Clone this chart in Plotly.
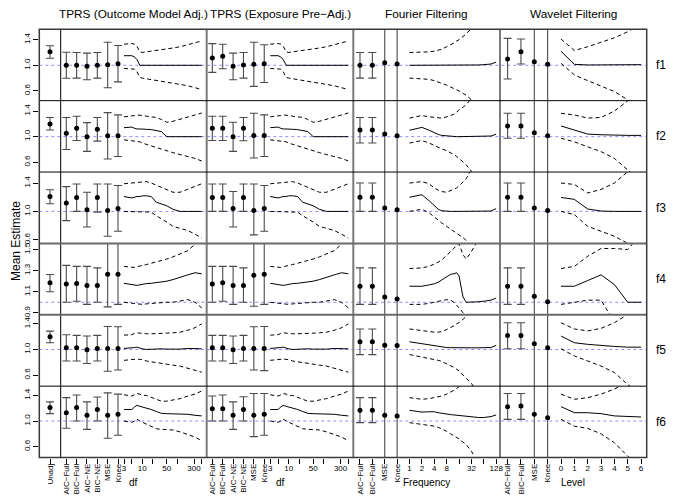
import numpy as np
import plotly.graph_objects as go

# ---- labels ----
row_labels = ["f1", "f2", "f3", "f4", "f5", "f6"]
col_titles = ["TPRS (Outcome Model Adj.)", "TPRS (Exposure Pre\u2212Adj.)",
              "Fourier Filtering", "Wavelet Filtering"]
tprs_methods = ["AIC\u2212Full", "BIC\u2212Full", "AIC\u2212NE", "BIC\u2212NE", "MSE", "Knee"]
filt_methods = ["AIC\u2212Full", "BIC\u2212Full", "MSE", "Knee"]

# ---- unadjusted ----
unadj_est = [1.21, 1.198, 1.21, 1.185, 1.20, 1.21]
unadj_lo = [1.11, 1.105, 1.108, 1.10, 1.105, 1.115]
unadj_hi = [1.305, 1.30, 1.305, 1.263, 1.286, 1.30]

# ---- TPRS (outcome model adj.) selected-df estimates ----
tprs_out_est = [[1.00, 1.00, 0.984, 1.00, 1.01, 1.025],
                [1.053, 1.13, 1.00, 1.115, 1.016, 1.016],
                [1.118, 1.197, 1.024, 1.197, 1.014, 1.04],
                [1.174, 1.177, 1.158, 1.16, 1.265, 1.265],
                [1.026, 1.026, 0.995, 1.016, 1.016, 1.016],
                [1.13, 1.21, 1.09, 1.18, 1.09, 1.105]]
tprs_out_lo = [[0.797, 0.80, 0.775, 0.80, 0.65, 0.74],
               [0.80, 0.94, 0.77, 0.93, 0.65, 0.69],
               [0.87, 1.00, 0.78, 0.99, 0.65, 0.72],
               [1.00, 1.01, 0.98, 1.00, 0.956, 0.98],
               [0.82, 0.82, 0.78, 0.82, 0.66, 0.68],
               [0.886, 1.00, 0.87, 1.00, 0.73, 0.777]]
tprs_out_hi = [[1.203, 1.20, 1.19, 1.20, 1.36, 1.31],
               [1.30, 1.32, 1.22, 1.30, 1.375, 1.34],
               [1.35, 1.386, 1.27, 1.386, 1.386, 1.366],
               [1.35, 1.34, 1.34, 1.326, 1.60, 1.57],
               [1.23, 1.22, 1.21, 1.22, 1.36, 1.355],
               [1.365, 1.406, 1.30, 1.375, 1.44, 1.42]]

# ---- TPRS (exposure pre-adj.) selected-df estimates ----
tprs_exp_est = [[1.114, 1.14, 0.984, 1.005, 1.016, 1.025],
                [1.13, 1.13, 1.00, 1.13, 1.02, 1.02],
                [1.197, 1.197, 1.04, 1.197, 1.014, 1.04],
                [1.174, 1.184, 1.16, 1.16, 1.256, 1.265],
                [1.026, 1.026, 0.995, 1.016, 1.016, 1.016],
                [1.19, 1.19, 1.09, 1.18, 1.09, 1.105]]
tprs_exp_lo = [[0.89, 0.947, 0.775, 0.80, 0.67, 0.73],
               [0.94, 0.94, 0.77, 0.935, 0.667, 0.69],
               [1.00, 1.00, 0.78, 1.00, 0.67, 0.72],
               [1.00, 1.01, 0.98, 1.00, 0.963, 0.98],
               [0.82, 0.82, 0.78, 0.82, 0.68, 0.67],
               [1.00, 1.00, 0.87, 1.00, 0.756, 0.777]]
tprs_exp_hi = [[1.338, 1.33, 1.19, 1.20, 1.36, 1.32],
               [1.32, 1.32, 1.225, 1.30, 1.365, 1.34],
               [1.386, 1.386, 1.28, 1.386, 1.386, 1.366],
               [1.34, 1.34, 1.34, 1.326, 1.60, 1.57],
               [1.22, 1.22, 1.21, 1.22, 1.355, 1.36],
               [1.39, 1.406, 1.30, 1.38, 1.43, 1.43]]

# ---- TPRS estimate by df (same curves in both TPRS panels) ----
df_grid = [3, 5, 6, 7, 8.5, 10, 13, 18, 25, 35, 50, 75, 120, 200, 320, 500]
tprs_curve_est = [[1.15, 1.15, 1.13, 1.09, 1.00, 1.00, 1.00, 1.00, 1.00, 1.00, 1.00, 1.00, 1.00, 1.00, 1.00, 1.00],
                  [1.14, 1.15, 1.13, 1.12, 1.12, 1.115, 1.115, 1.11, 1.09, 1.08, 1.00, 1.00, 1.00, 1.00, 1.00, 1.00],
                  [1.21, 1.19, 1.20, 1.21, 1.21, 1.22, 1.22, 1.21, 1.13, 1.11, 1.08, 1.03, 1.00, 1.00, 1.00, 1.00],
                  [1.18, 1.17, 1.16, 1.16, 1.165, 1.17, 1.177, 1.18, 1.185, 1.19, 1.20, 1.215, 1.24, 1.26, 1.28, 1.27],
                  [1.016, 1.02, 1.03, 1.036, 1.02, 1.01, 1.00, 1.005, 1.01, 1.01, 1.005, 1.00, 1.005, 1.016, 1.01, 1.01],
                  [1.18, 1.18, 1.22, 1.245, 1.23, 1.22, 1.20, 1.18, 1.15, 1.12, 1.115, 1.115, 1.11, 1.105, 1.09, 1.08]]
tprs_curve_hi = [[1.33, 1.34, 1.33, 1.30, 1.21, 1.20, 1.21, 1.22, 1.23, 1.24, 1.25, 1.27, 1.29, 1.32, 1.35, 1.38],
                 [1.31, 1.32, 1.33, 1.34, 1.34, 1.33, 1.32, 1.31, 1.30, 1.27, 1.225, 1.24, 1.27, 1.30, 1.33, 1.37],
                 [1.39, 1.40, 1.40, 1.41, 1.41, 1.42, 1.42, 1.40, 1.37, 1.34, 1.30, 1.27, 1.27, 1.31, 1.35, 1.39],
                 [1.34, 1.33, 1.33, 1.335, 1.345, 1.35, 1.357, 1.37, 1.38, 1.39, 1.41, 1.43, 1.46, 1.49, 1.55, 1.62],
                 [1.224, 1.23, 1.25, 1.26, 1.255, 1.25, 1.245, 1.245, 1.245, 1.25, 1.255, 1.26, 1.27, 1.30, 1.34, 1.40],
                 [1.41, 1.39, 1.41, 1.43, 1.42, 1.40, 1.40, 1.37, 1.34, 1.31, 1.31, 1.33, 1.35, 1.39, 1.42, 1.47]]
tprs_curve_lo = [[0.95, 0.95, 0.94, 0.90, 0.81, 0.80, 0.79, 0.78, 0.765, 0.75, 0.735, 0.72, 0.70, 0.68, 0.65, 0.62],
                 [0.95, 0.94, 0.93, 0.93, 0.92, 0.90, 0.88, 0.85, 0.83, 0.80, 0.77, 0.75, 0.72, 0.69, 0.66, 0.62],
                 [1.00, 1.00, 1.00, 1.00, 1.00, 1.00, 1.00, 0.99, 0.94, 0.90, 0.85, 0.79, 0.76, 0.73, 0.68, 0.625],
                 [1.00, 0.99, 0.985, 0.98, 0.98, 0.98, 0.985, 0.99, 0.99, 0.995, 1.00, 1.00, 1.01, 1.025, 1.00, 0.947],
                 [0.83, 0.84, 0.85, 0.85, 0.845, 0.84, 0.82, 0.81, 0.80, 0.79, 0.775, 0.755, 0.74, 0.71, 0.68, 0.645],
                 [1.00, 0.98, 1.00, 1.03, 1.00, 0.98, 0.96, 0.92, 0.88, 0.87, 0.86, 0.86, 0.83, 0.79, 0.75, 0.69]]

# ---- Fourier filtering ----
fourier_est = [[1.00, 1.00, 1.04, 1.02],
               [1.105, 1.105, 1.04, 1.016],
               [1.20, 1.20, 1.048, 1.024],
               [1.152, 1.152, 1.05, 1.03],
               [1.12, 1.12, 1.067, 1.06],
               [1.167, 1.167, 1.09, 1.08]]
fourier_lo = [[0.80, 0.80, -1.0, -1.0],
              [0.90, 0.90, -1.0, -1.0],
              [1.00, 1.00, -1.0, -1.0],
              [0.98, 0.98, -1.0, -1.0],
              [0.92, 0.92, -1.0, -1.0],
              [0.975, 0.975, -1.0, -1.0]]
fourier_hi = [[1.20, 1.20, 3.0, 3.0],
              [1.30, 1.30, 3.0, 3.0],
              [1.40, 1.40, 3.0, 3.0],
              [1.326, 1.326, 3.0, 3.0],
              [1.32, 1.32, 3.0, 3.0],
              [1.365, 1.365, 3.0, 3.0]]
freq_grid = [1, 2, 3, 4, 5, 6, 8, 10, 12, 14, 16, 20, 24, 32, 48, 64, 96, 128]
fourier_curve_est = [[1.00, 1.00, 1.00, 1.005, 1.00, 0.998, 1.00, 1.00, 1.002, 1.00, 1.00, 1.00, 1.00, 1.00, 1.005, 1.01, 1.02, 1.05],
                     [1.10, 1.145, 1.10, 1.06, 1.035, 1.02, 1.01, 1.00, 1.00, 1.00, 1.00, 1.00, 1.00, 1.00, 1.00, 1.005, 1.01, 1.04],
                     [1.20, 1.235, 1.15, 1.08, 1.03, 1.01, 1.00, 1.00, 1.00, 1.00, 1.00, 1.00, 1.00, 1.00, 1.00, 1.00, 1.005, 1.04],
                     [1.152, 1.152, 1.165, 1.175, 1.19, 1.21, 1.24, 1.265, 1.27, 1.28, 1.25, 1.05, 1.00, 1.00, 1.005, 1.01, 1.02, 1.04],
                     [1.12, 1.09, 1.065, 1.05, 1.04, 1.036, 1.03, 1.028, 1.026, 1.026, 1.026, 1.026, 1.026, 1.026, 1.026, 1.026, 1.03, 1.065],
                     [1.167, 1.14, 1.145, 1.145, 1.13, 1.12, 1.11, 1.10, 1.095, 1.09, 1.085, 1.08, 1.07, 1.06, 1.055, 1.055, 1.07, 1.095]]
fourier_curve_hi = [[1.20, 1.20, 1.21, 1.22, 1.235, 1.25, 1.29, 1.32, 1.35, 1.38, 1.40, 1.45, 1.49, 1.58, 1.75, 1.90, 2.10, 2.30],
                    [1.29, 1.33, 1.31, 1.30, 1.29, 1.29, 1.31, 1.33, 1.35, 1.38, 1.42, 1.46, 1.50, 1.60, 1.80, 1.95, 2.20, 2.40],
                    [1.40, 1.42, 1.39, 1.33, 1.30, 1.28, 1.27, 1.29, 1.31, 1.33, 1.36, 1.41, 1.46, 1.60, 1.80, 2.00, 2.20, 2.40],
                    [1.32, 1.326, 1.34, 1.36, 1.38, 1.40, 1.44, 1.48, 1.51, 1.54, 1.555, 1.45, 1.41, 1.48, 1.60, 1.90, 2.10, 2.30],
                    [1.32, 1.29, 1.275, 1.27, 1.27, 1.28, 1.31, 1.34, 1.37, 1.40, 1.42, 1.47, 1.52, 1.60, 1.80, 2.00, 2.20, 2.40],
                    [1.365, 1.34, 1.35, 1.365, 1.38, 1.39, 1.42, 1.45, 1.48, 1.51, 1.53, 1.58, 1.62, 1.70, 1.90, 2.00, 2.20, 2.40]]
fourier_curve_lo = [[0.80, 0.79, 0.78, 0.76, 0.74, 0.72, 0.69, 0.66, 0.64, 0.62, 0.60, 0.56, 0.53, 0.46, 0.30, 0.15, 0.00, -0.10],
                    [0.90, 0.94, 0.90, 0.86, 0.83, 0.81, 0.78, 0.75, 0.72, 0.69, 0.66, 0.61, 0.56, 0.46, 0.30, 0.15, 0.00, -0.10],
                    [1.00, 1.03, 0.98, 0.92, 0.87, 0.84, 0.79, 0.75, 0.72, 0.70, 0.67, 0.63, 0.59, 0.50, 0.35, 0.20, 0.00, -0.20],
                    [0.98, 0.98, 0.99, 1.00, 1.005, 1.015, 1.025, 1.02, 1.00, 0.97, 0.95, 0.90, 0.85, 0.75, 0.60, 0.50, 0.30, 0.10],
                    [0.92, 0.886, 0.86, 0.845, 0.83, 0.815, 0.78, 0.75, 0.72, 0.69, 0.665, 0.60, 0.555, 0.47, 0.30, 0.15, 0.00, -0.20],
                    [0.975, 0.95, 0.935, 0.92, 0.90, 0.88, 0.84, 0.80, 0.77, 0.745, 0.72, 0.67, 0.63, 0.53, 0.35, 0.20, 0.00, -0.20]]

# ---- Wavelet filtering ----
wavelet_est = [[1.10, 1.21, 1.056, 1.016],
               [1.167, 1.167, 1.06, 1.016],
               [1.20, 1.20, 1.048, 1.014],
               [1.152, 1.152, 1.057, 1.004],
               [1.22, 1.22, 1.09, 1.026],
               [1.225, 1.235, 1.105, 1.053]]
wavelet_lo = [[0.786, 1.02, -1.0, -1.0],
              [0.975, 0.975, -1.0, -1.0],
              [1.00, 1.00, -1.0, -1.0],
              [0.98, 0.98, -1.0, -1.0],
              [1.01, 1.01, -1.0, -1.0],
              [1.026, 1.026, -1.0, -1.0]]
wavelet_hi = [[1.42, 1.41, 3.0, 3.0],
              [1.365, 1.365, 3.0, 3.0],
              [1.40, 1.40, 3.0, 3.0],
              [1.326, 1.326, 3.0, 3.0],
              [1.417, 1.417, 3.0, 3.0],
              [1.43, 1.43, 3.0, 3.0]]
level_grid = [0, 1, 2, 3, 4, 5, 6]
wavelet_curve_est = [[1.22, 1.015, 1.005, 1.005, 1.005, 1.005, 1.01],
                     [1.167, 1.105, 1.04, 1.03, 1.02, 1.02, 1.02],
                     [1.197, 1.17, 1.034, 1.005, 1.00, 1.00, 1.00],
                     [1.152, 1.152, 1.206, 1.26, 1.168, 1.00, 1.00],
                     [1.21, 1.105, 1.08, 1.06, 1.047, 1.036, 1.036],
                     [1.225, 1.13, 1.13, 1.115, 1.08, 1.07, 1.063]]
wavelet_curve_hi = [[1.41, 1.23, 1.29, 1.36, 1.43, 1.525, 1.65],
                    [1.365, 1.34, 1.29, 1.30, 1.40, 1.56, 1.80],
                    [1.40, 1.38, 1.26, 1.31, 1.40, 1.56, 1.80],
                    [1.32, 1.34, 1.436, 1.51, 1.51, 1.50, 1.65],
                    [1.417, 1.32, 1.29, 1.33, 1.417, 1.55, 1.75],
                    [1.42, 1.34, 1.365, 1.42, 1.50, 1.60, 1.80]]
wavelet_curve_lo = [[1.03, 0.85, 0.76, 0.68, 0.59, 0.46, 0.30],
                    [0.975, 0.92, 0.84, 0.766, 0.66, 0.48, 0.30],
                    [1.00, 0.955, 0.79, 0.72, 0.65, 0.55, 0.40],
                    [0.98, 1.00, 1.02, 1.02, 0.80, 0.60, 0.40],
                    [1.01, 0.90, 0.82, 0.74, 0.64, 0.45, 0.30],
                    [1.026, 0.92, 0.885, 0.80, 0.66, 0.45, 0.30]]

# ---- layout geometry (window pixels) ----
WIN_W, WIN_H = 677, 497
PAGE_PAD = 8                       # default body margin of the page
W, H = WIN_W - PAGE_PAD, WIN_H - PAGE_PAD
col_px = [39.3, 60.7, 206.7, 353.3, 500.0, 646.7]
row_px = [29.3 + 71.37 * i for i in range(7)]
y_ranges = [(0.447, 1.5625), (0.447, 1.5625), (0.549, 1.555),
            (0.8815, 1.558), (0.4266, 1.542), (0.4297, 1.545)]
y_ticks = [[0.6, 1.0, 1.4]] * 3 + [[0.9, 1.1, 1.3, 1.5]] + [[0.6, 1.0, 1.4]] * 2

# x positions of the method estimates inside each panel
tprs_cat_pos = [10 ** (np.log10(3) - 6 / 35 - (5 - i) * 10.34 / 35) for i in range(6)]
fourier_cat_pos = [2.0 ** p for p in (-4, -3, -2, -1)]
wavelet_cat_pos = [-4, -3, -2, -1]

x_ranges = [[0, 2],
            [np.log10(3) - 63.3 / 35, np.log10(3) + 82.7 / 35],
            [np.log10(3) - 63.3 / 35, np.log10(3) + 82.7 / 35],
            [-4.54 * np.log10(2), 7.31 * np.log10(2)],
            [-4.57, 6.42]]
x_types = ["linear", "log", "log", "log", "linear"]

FONT = "Liberation Sans, Arial, Helvetica, sans-serif"


def px_x(p):
    return (p - PAGE_PAD) / W


def px_y(p):
    return 1 - (p - PAGE_PAD) / H


def ax_id(k):
    return "" if k == 1 else str(k)


fig = go.Figure()


def add_ci(xs, est, lo, hi, k):
    fig.add_trace(go.Scatter(
        x=xs, y=est, mode="markers",
        marker=dict(color="black", size=5),
        error_y=dict(type="data", symmetric=False,
                     array=[h - e for h, e in zip(hi, est)],
                     arrayminus=[e - l for e, l in zip(est, lo)],
                     color="#4a4a4a", thickness=1.1, width=4),
        xaxis="x" + ax_id(k), yaxis="y" + ax_id(k),
        showlegend=False, hoverinfo="skip"))


def add_curve(xs, ys, k, dash="solid"):
    fig.add_trace(go.Scatter(
        x=xs, y=ys, mode="lines",
        line=dict(color="black", width=1, dash=dash),
        xaxis="x" + ax_id(k), yaxis="y" + ax_id(k),
        showlegend=False, hoverinfo="skip"))


DASH = "4px,3px"
for r in range(6):
    base = r * 5
    add_ci([1], [unadj_est[r]], [unadj_lo[r]], [unadj_hi[r]], base + 1)

    add_ci(tprs_cat_pos, tprs_out_est[r], tprs_out_lo[r], tprs_out_hi[r], base + 2)
    add_ci(tprs_cat_pos, tprs_exp_est[r], tprs_exp_lo[r], tprs_exp_hi[r], base + 3)
    for k in (base + 2, base + 3):
        add_curve(df_grid, tprs_curve_est[r], k)
        add_curve(df_grid, tprs_curve_hi[r], k, DASH)
        add_curve(df_grid, tprs_curve_lo[r], k, DASH)

    add_ci(fourier_cat_pos, fourier_est[r], fourier_lo[r], fourier_hi[r], base + 4)
    add_curve(freq_grid, fourier_curve_est[r], base + 4)
    add_curve(freq_grid, fourier_curve_hi[r], base + 4, DASH)
    add_curve(freq_grid, fourier_curve_lo[r], base + 4, DASH)

    add_ci(wavelet_cat_pos, wavelet_est[r], wavelet_lo[r], wavelet_hi[r], base + 5)
    add_curve(level_grid, wavelet_curve_est[r], base + 5)
    add_curve(level_grid, wavelet_curve_hi[r], base + 5, DASH)
    add_curve(level_grid, wavelet_curve_lo[r], base + 5, DASH)

layout = {}
cat_ticks = [([1], ["Unadj"]),
             (tprs_cat_pos, tprs_methods),
             (tprs_cat_pos, tprs_methods),
             (fourier_cat_pos, filt_methods),
             (wavelet_cat_pos, filt_methods)]
num_ticks = [None,
             ([3, 5, 10, 20, 50, 100, 300, 500], ["3", "", "10", "", "50", "", "300", ""]),
             ([3, 5, 10, 20, 50, 100, 300, 500], ["3", "", "10", "", "50", "", "300", ""]),
             ([1, 2, 4, 8, 16, 32, 64, 128], ["1", "2", "4", "8", "", "32", "", "128"]),
             (level_grid, [str(v) for v in level_grid])]

for r in range(6):
    for c in range(5):
        k = r * 5 + c + 1
        bottom = r == 5
        xa = dict(domain=[px_x(col_px[c]), px_x(col_px[c + 1])],
                  range=x_ranges[c], type=x_types[c],
                  anchor="y" + ax_id(k),
                  showgrid=False, zeroline=False, showline=False,
                  fixedrange=True)
        if bottom:
            xa.update(tickmode="array", tickvals=cat_ticks[c][0], ticktext=cat_ticks[c][1],
                      tickangle=-90, ticks="outside", ticklen=5, tickwidth=1,
                      ticklabelstandoff=-3,
                      tickcolor="black", tickfont=dict(size=8, color="black"))
        else:
            xa.update(showticklabels=False, ticks="")
        ya = dict(domain=[px_y(row_px[r + 1]), px_y(row_px[r])],
                  range=list(y_ranges[r]), anchor="x" + ax_id(k),
                  showgrid=False, zeroline=False, showline=False,
                  fixedrange=True)
        if c == 0:
            ya.update(tickmode="array", tickvals=y_ticks[r],
                      ticktext=["%.1f" % v for v in y_ticks[r]],
                      tickangle=-90, ticks="outside", ticklen=5, tickwidth=1,
                      tickcolor="black", tickfont=dict(size=8, color="black"))
        else:
            ya.update(showticklabels=False, ticks="")
        layout["xaxis" + ax_id(k)] = xa
        layout["yaxis" + ax_id(k)] = ya

# second x axis on the bottom row for the df / frequency / level scales
for c in range(1, 5):
    k = 25 + c + 1
    ov = 30 + c
    layout["xaxis%d" % ov] = dict(
        overlaying="x%d" % k, anchor="y%d" % k, side="bottom",
        range=x_ranges[c], type=x_types[c],
        tickmode="array", tickvals=num_ticks[c][0], ticktext=num_ticks[c][1],
        tickangle=0, ticks="outside", ticklen=5, tickwidth=1, tickcolor="black",
        ticklabelstandoff=-2,
        tickfont=dict(size=8, color="black"),
        showgrid=False, zeroline=False, showline=False, fixedrange=True)
    fig.add_trace(go.Scatter(x=[num_ticks[c][0][0]], y=[None], mode="markers",
                             xaxis="x%d" % ov, yaxis="y%d" % k,
                             showlegend=False, hoverinfo="skip"))

shapes = []
# reference line at 1
for r in range(6):
    k = r * 5 + 1
    shapes.append(dict(type="line", xref="paper", yref="y" + ax_id(k),
                       x0=px_x(col_px[0]), x1=px_x(col_px[-1]), y0=1, y1=1,
                       line=dict(color="#8f8fff", width=1, dash="dot"), layer="below"))
# panel frame
for i, p in enumerate(col_px[1:-1]):
    gray = i > 0
    shapes.append(dict(type="line", xref="paper", yref="paper",
                       x0=px_x(p), x1=px_x(p), y0=px_y(row_px[-1]), y1=px_y(row_px[0]),
                       line=dict(color="#7a7a7a" if gray else "black", width=2 if gray else 1)))
for i, p in enumerate(row_px[1:-1]):
    gray = i in (2, 3)
    shapes.append(dict(type="line", xref="paper", yref="paper",
                       x0=px_x(col_px[0]), x1=px_x(col_px[-1]), y0=px_y(p), y1=px_y(p),
                       line=dict(color="#6a6a6a" if gray else "black", width=2 if gray else 1)))
shapes.append(dict(type="rect", xref="paper", yref="paper",
                   x0=px_x(col_px[0]), x1=px_x(col_px[-1]),
                   y0=px_y(row_px[-1]), y1=px_y(row_px[0]),
                   line=dict(color="#3a3a3a", width=1.5)))


def label(text, x, y, size, angle=0):
    return dict(text=text, x=px_x(x), y=px_y(y), xref="paper", yref="paper",
                xanchor="center", yanchor="middle", showarrow=False, textangle=angle,
                font=dict(size=size, color="black"))


annotations = []
for c, t in enumerate(col_titles):
    annotations.append(label(t, (col_px[c + 1] + col_px[c + 2]) / 2, 14, 11.8))
for r, t in enumerate(row_labels):
    annotations.append(label(t, 661, (row_px[r] + row_px[r + 1]) / 2, 12))
for c, t in zip(range(1, 5), ["df", "df", "Frequency", "Level"]):
    annotations.append(label(t, (col_px[c] + col_px[c + 1]) / 2, 482, 10))
annotations.append(label("Mean Estimate", 16, 241, 12, -90))

fig.update_layout(**layout)
fig.update_layout(width=W, height=H, margin=dict(l=0, r=0, t=0, b=0),
                  paper_bgcolor="white", plot_bgcolor="rgba(0,0,0,0)",
                  showlegend=False, template="none",
                  font=dict(family=FONT, color="black"),
                  shapes=shapes, annotations=annotations)

fig.write_html("out.html")
